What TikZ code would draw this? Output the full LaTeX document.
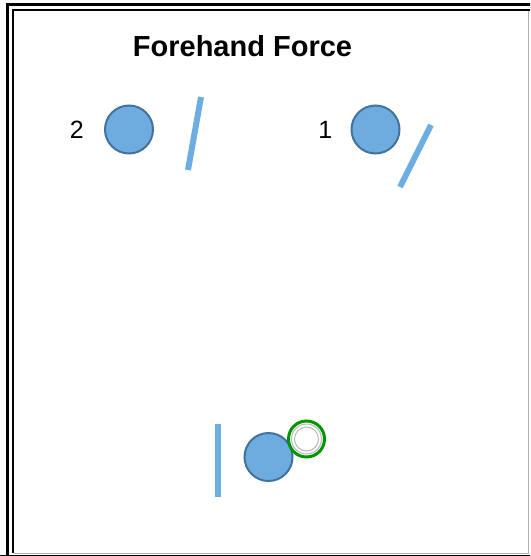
\documentclass[tikz,border=0pt]{standalone}
\usepackage{fontspec}
\setmainfont{Liberation Sans}
\usetikzlibrary{positioning}
\definecolor{ballFill}{RGB}{110,172,223}
\definecolor{ballEdge}{RGB}{66,114,158}
\definecolor{paddleColor}{RGB}{110,173,226}
\definecolor{ringGreen}{RGB}{0,148,0}

\begin{document}
\begin{tikzpicture}[
    x=1pt, y=-1pt,
    node distance=20pt,
    bola/.style={
        circle,
        draw=ballEdge,
        fill=ballFill,
        line width=2pt,
        minimum size=48pt,
        inner sep=0pt
    },
    numero/.style={
        font=\fontsize{25}{25}\selectfont,
        inner sep=0pt
    },
    pala/.style={
        draw=paddleColor,
        line width=6pt
    },
    anillo/.style={
        circle,
        draw=ringGreen,
        fill=white,
        line width=3pt,
        minimum size=36pt,
        inner sep=0pt
    }
]

    \useasboundingbox (0,0) rectangle (530,556);
    \clip (0,0) rectangle (530,556);

    % marco
    \draw[line width=3pt] (7.5,570) |- (545,4.5);
    \draw[line width=2.5pt] (13.2,553) |- (545,10.2);
    \draw[gray!60, line width=1.5pt] (14,553.5) -| (528.5,11);
    \draw[line width=2pt] (0,555.5) -- (530,555.5);

    \node[font=\bfseries\fontsize{29}{29}\selectfont] (titulo) at (242.5,46) {Forehand Force};

    % posicion 2
    \node[bola] (bola2) at (129,129.5) {};
    \node[numero, left=20pt of bola2] (num2) {2};
    \coordinate (p2a) at (201,97);
    \coordinate (p2b) at (188,170);
    \draw[pala] (p2a) -- (p2b);

    % posicion 1
    \node[bola] (bola1) at (375.5,129.5) {};
    \node[numero, left=18pt of bola1] (num1) {1};
    \coordinate (p1a) at (431,125);
    \coordinate (p1b) at (400,187);
    \draw[pala] (p1a) -- (p1b);

    % inicio
    \node[bola] (bola0) at (268.5,457) {};
    \coordinate (p0a) at (217.5,424);
    \coordinate (p0b) at (217.5,497);
    \draw[pala] (p0a) -- (p0b);
    \node[anillo] (aro) at (306.5,439) {};
    \draw[gray!55, line width=1pt] (aro.center) circle (15pt) (aro.center) circle (12pt);

\end{tikzpicture}
\end{document}
